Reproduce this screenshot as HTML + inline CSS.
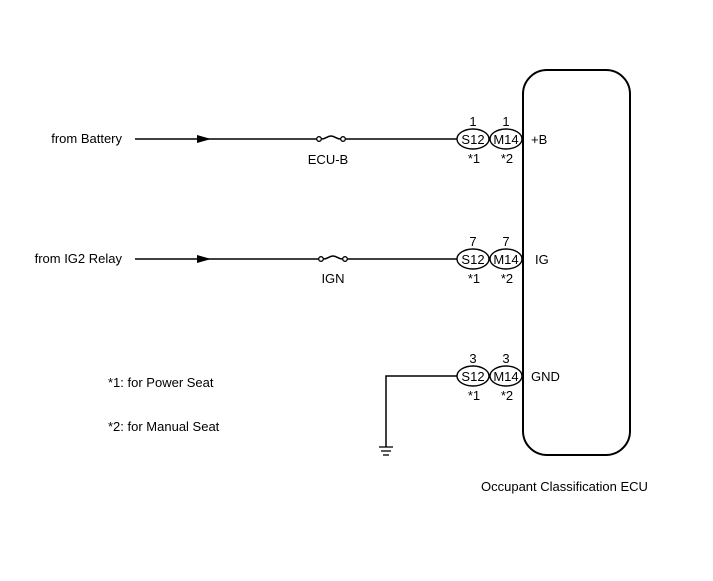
<!DOCTYPE html>
<html><head><meta charset="utf-8"><style>
html,body{margin:0;padding:0;background:#fff;}
svg{display:block;}
text{font-family:"Liberation Sans",Arial,sans-serif;font-size:13px;fill:#000;}
</style></head><body>
<svg width="713" height="581" viewBox="0 0 713 581" xmlns="http://www.w3.org/2000/svg">
<defs>
<g id="fuse">
<circle cx="0" cy="0" r="2.3" fill="#fff" stroke="#000" stroke-width="1.3"/>
<circle cx="24" cy="0" r="2.3" fill="#fff" stroke="#000" stroke-width="1.3"/>
<path d="M2.3,0 C7,0 8,-3 12,-3 C16,-3 17,0 21.7,0" fill="none" stroke="#000" stroke-width="1.5"/>
</g>
<g id="conn">
<ellipse cx="473" cy="0" rx="16" ry="10" fill="#fff" stroke="#000" stroke-width="1.4"/>
<ellipse cx="506" cy="0" rx="16" ry="10" fill="#fff" stroke="#000" stroke-width="1.4"/>
<text x="473" y="5" text-anchor="middle">S12</text>
<text x="506" y="5" text-anchor="middle">M14</text>
<text x="474" y="24" text-anchor="middle">*1</text>
<text x="507" y="24" text-anchor="middle">*2</text>
</g>
</defs>
<rect x="523" y="70" width="107" height="385" rx="24" ry="24" fill="none" stroke="#000" stroke-width="2"/>

<!-- Battery line -->
<line x1="135" y1="139" x2="317" y2="139" stroke="#000" stroke-width="1.5"/>
<line x1="345" y1="139" x2="457" y2="139" stroke="#000" stroke-width="1.5"/>
<polygon points="197,135 211,139 197,143" fill="#000"/>
<use href="#fuse" x="319" y="139"/>
<text x="122" y="143" text-anchor="end">from Battery</text>
<text x="328" y="164" text-anchor="middle">ECU-B</text>
<text x="473" y="126" text-anchor="middle">1</text>
<text x="506" y="126" text-anchor="middle">1</text>
<g transform="translate(0,139)"><use href="#conn"/></g>
<text x="531" y="144">+B</text>

<!-- IG line -->
<line x1="135" y1="259" x2="319" y2="259" stroke="#000" stroke-width="1.5"/>
<line x1="346" y1="259" x2="457" y2="259" stroke="#000" stroke-width="1.5"/>
<polygon points="197,255 211,259 197,263" fill="#000"/>
<use href="#fuse" x="321" y="259"/>
<text x="122" y="263" text-anchor="end">from IG2 Relay</text>
<text x="333" y="283" text-anchor="middle">IGN</text>
<text x="473" y="246" text-anchor="middle">7</text>
<text x="506" y="246" text-anchor="middle">7</text>
<g transform="translate(0,259)"><use href="#conn"/></g>
<text x="535" y="264">IG</text>

<!-- GND -->
<polyline points="457,376 386,376 386,447" fill="none" stroke="#000" stroke-width="1.5"/>
<line x1="379" y1="447" x2="393" y2="447" stroke="#000" stroke-width="1.3"/>
<line x1="381" y1="451" x2="391" y2="451" stroke="#000" stroke-width="1.3"/>
<line x1="383" y1="455" x2="389" y2="455" stroke="#000" stroke-width="1.3"/>
<text x="473" y="363" text-anchor="middle">3</text>
<text x="506" y="363" text-anchor="middle">3</text>
<g transform="translate(0,376)"><use href="#conn"/></g>
<text x="531" y="381">GND</text>

<text x="108" y="387">*1: for Power Seat</text>
<text x="108" y="431">*2: for Manual Seat</text>
<text x="481" y="491">Occupant Classification ECU</text>
</svg>
</body></html>
